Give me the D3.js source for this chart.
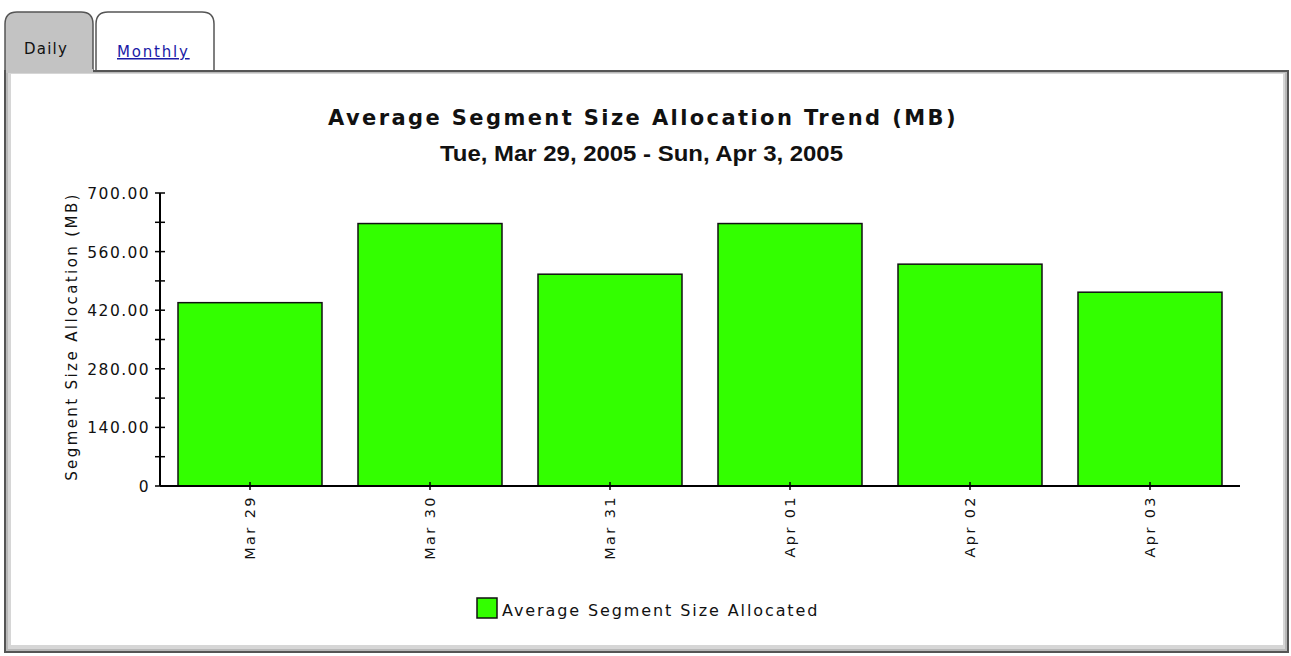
<!DOCTYPE html>
<meta charset="utf-8">
<script src="https://d3js.org/d3.v7.min.js"></script>
<style>
  body { margin: 0; background: #fff; }
  svg text { font-family: "DejaVu Sans", Verdana, sans-serif; fill: #111; }
</style>
<body>
<div id="chart"></div>
<script>
// data
var days = ["Mar 29", "Mar 30", "Mar 31", "Apr 01", "Apr 02", "Apr 03"]
var allocated = [438, 627, 506, 627, 530, 463]
var yTicks = [0, 140, 280, 420, 560, 700]
var tabs = ["Daily", "Monthly"]

var W = 1291, H = 656
var svg = d3.select("#chart").append("svg").attr("width", W).attr("height", H)

// tabs
function tabPath(x0, x1, y0, y1, r) {
  return "M" + x0 + "," + y1 + " L" + x0 + "," + (y0 + r) +
    " Q" + x0 + "," + y0 + " " + (x0 + r) + "," + y0 +
    " L" + (x1 - r) + "," + y0 +
    " Q" + x1 + "," + y0 + " " + x1 + "," + (y0 + r) +
    " L" + x1 + "," + y1
}
svg.append("path").attr("d", tabPath(5, 93, 12, 72, 12))
  .attr("fill", "#c3c3c3").attr("stroke", "#555").attr("stroke-width", 1.5)
svg.append("path").attr("d", tabPath(96, 214, 12, 71, 12))
  .attr("fill", "#fff").attr("stroke", "#555").attr("stroke-width", 1.5)
svg.append("text").attr("x", 24).attr("y", 54).attr("font-size", 15).attr("letter-spacing", 1.2).text(tabs[0])
svg.append("text").attr("x", 117).attr("y", 57).attr("font-size", 15).attr("letter-spacing", 1.8)
  .style("fill", "#1a1aa6").attr("text-decoration", "underline").text(tabs[1])

// frame with bevel
svg.append("rect").attr("x", 4).attr("y", 70).attr("width", 1285).attr("height", 583).attr("fill", "#555")
svg.append("rect").attr("x", 6).attr("y", 72).attr("width", 1281).attr("height", 579).attr("fill", "#b8b8b8")
svg.append("rect").attr("x", 8).attr("y", 73).attr("width", 1277).attr("height", 576).attr("fill", "#d6d6d6")
svg.append("rect").attr("x", 11).attr("y", 74).attr("width", 1272).attr("height", 571).attr("fill", "#fff")
svg.append("rect").attr("x", 6).attr("y", 69).attr("width", 87).attr("height", 4).attr("fill", "#c3c3c3")

// titles
svg.append("text").attr("x", 643).attr("y", 125).attr("text-anchor", "middle")
  .attr("font-size", 21).attr("font-weight", "bold").attr("letter-spacing", 2.4)
  .text("Average Segment Size Allocation Trend (MB)")
svg.append("text").attr("x", 440).attr("y", 161)
  .attr("font-size", 22).attr("font-weight", "bold")
  .attr("textLength", 403).attr("lengthAdjust", "spacingAndGlyphs")
  .style("font-family", "'Liberation Sans', Arial, sans-serif")
  .text("Tue, Mar 29, 2005 - Sun, Apr 3, 2005")

// scales
var left = 160, right = 1240, plotTop = 193, bottom = 486
var x = d3.scaleBand().domain(days).range([left, right]).paddingInner(0.2).paddingOuter(0.1)
var y = d3.scaleLinear().domain([0, 700]).range([bottom, plotTop])

// bars
svg.append("g").selectAll("rect").data(days).enter().append("rect")
  .attr("x", function (d) { return x(d) })
  .attr("y", function (d, i) { return y(allocated[i]) })
  .attr("width", x.bandwidth())
  .attr("height", function (d, i) { return bottom - y(allocated[i]) })
  .attr("fill", "#33ff00").attr("stroke", "#111").attr("stroke-width", 1.5)

// y axis
var ya = svg.append("g")
ya.append("line").attr("x1", left).attr("x2", left).attr("y1", plotTop).attr("y2", bottom)
  .attr("stroke", "#000").attr("stroke-width", 2)
var minor = d3.range(0, 701, 70)
ya.selectAll("line.tk").data(minor).enter().append("line").attr("class", "tk")
  .attr("x1", left - 5).attr("x2", left + 5)
  .attr("y1", function (d) { return y(d) }).attr("y2", function (d) { return y(d) })
  .attr("stroke", "#000").attr("stroke-width", 1.5)
ya.selectAll("text").data(yTicks).enter().append("text")
  .attr("x", left - 10).attr("y", function (d) { return y(d) + 6 })
  .attr("text-anchor", "end").attr("font-size", 15.5).attr("letter-spacing", 1.4)
  .text(function (d) { return d === 0 ? "0" : d3.format(".2f")(d) })
svg.append("text").attr("transform", "translate(77," + ((plotTop + bottom) / 2 - 3) + ") rotate(-90)")
  .attr("text-anchor", "middle").attr("font-size", 15).attr("letter-spacing", 2.4)
  .text("Segment Size Allocation (MB)")

// x axis
var xa = svg.append("g")
xa.append("line").attr("x1", left).attr("x2", right).attr("y1", bottom).attr("y2", bottom)
  .attr("stroke", "#000").attr("stroke-width", 2)
xa.selectAll("line.tk").data(days).enter().append("line").attr("class", "tk")
  .attr("x1", function (d) { return x(d) + x.bandwidth() / 2 })
  .attr("x2", function (d) { return x(d) + x.bandwidth() / 2 })
  .attr("y1", bottom - 4).attr("y2", bottom + 4)
  .attr("stroke", "#000").attr("stroke-width", 1.5)
xa.selectAll("text").data(days).enter().append("text")
  .attr("transform", function (d) {
    return "translate(" + (x(d) + x.bandwidth() / 2 + 5) + "," + (bottom + 9) + ") rotate(-90)"
  })
  .attr("text-anchor", "end").attr("font-size", 14.5).attr("letter-spacing", 2.4)
  .text(function (d) { return d })

// legend
svg.append("rect").attr("x", 477).attr("y", 598).attr("width", 20).attr("height", 20)
  .attr("fill", "#33ff00").attr("stroke", "#111").attr("stroke-width", 1.5)
svg.append("text").attr("x", 502).attr("y", 616).attr("font-size", 16).attr("letter-spacing", 1.9)
  .text("Average Segment Size Allocated")
</script>
</body>
